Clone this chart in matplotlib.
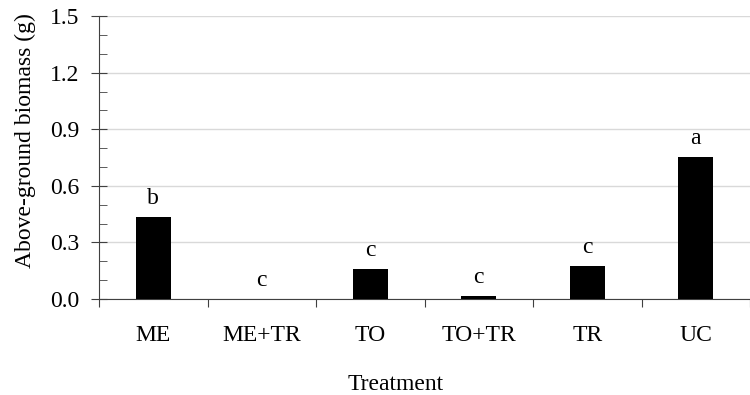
import matplotlib.pyplot as plt
import numpy as np

treatments = ['ME', 'ME+TR', 'TO', 'TO+TR', 'TR', 'UC']
biomass = [0.435, 0.0, 0.16, 0.016, 0.175, 0.752]
letters = ['b', 'c', 'c', 'c', 'c', 'a']

plt.rcParams['font.family'] = ['Liberation Serif', 'DejaVu Serif']
plt.rcParams['font.size'] = 17

fig = plt.figure(figsize=(7.5, 3.95), dpi=100)
ax = fig.add_axes([0.132, 0.243, 0.868, 0.716])

x = np.arange(len(treatments))
ax.bar(x, biomass, width=0.32, color='black', zorder=3)
for xi, v, lab in zip(x, biomass, letters):
    ax.text(xi, v + 0.068, lab, ha='center', va='baseline', fontsize=17)

ax.set_xlim(-0.5, 5.5)
ax.set_ylim(0, 1.5)
ax.set_yticks(np.arange(0, 1.51, 0.3))
ax.set_yticklabels(['%.1f' % t for t in np.arange(0, 1.51, 0.3)])
ax.set_yticks(np.arange(0, 1.51, 0.1), minor=True)
ax.yaxis.grid(True, which='major', color='#d9d9d9', lw=1, zorder=0)

# category boundaries as major ticks, names on minor ticks
ax.set_xticks(np.arange(-0.5, 5.6, 1))
ax.set_xticklabels([])
ax.set_xticks(x, minor=True)
ax.set_xticklabels(treatments, minor=True)
ax.tick_params(axis='x', which='major', direction='out', length=6, color='#404040')
ax.tick_params(axis='x', which='minor', length=0, pad=19)
ax.tick_params(axis='y', which='major', direction='inout', length=12, color='#404040', pad=8)
ax.tick_params(axis='y', which='minor', direction='in', length=6, color='#404040')

for s in ['top', 'right']:
    ax.spines[s].set_visible(False)
for s in ['left', 'bottom']:
    ax.spines[s].set_color('#404040')

ax.set_ylabel('Above-ground biomass (g)')
ax.yaxis.set_label_coords(-0.097, 0.56)
ax.set_xlabel('Treatment')
ax.xaxis.set_label_coords(0.455, -0.265)

fig.savefig('out.png', dpi=100)
